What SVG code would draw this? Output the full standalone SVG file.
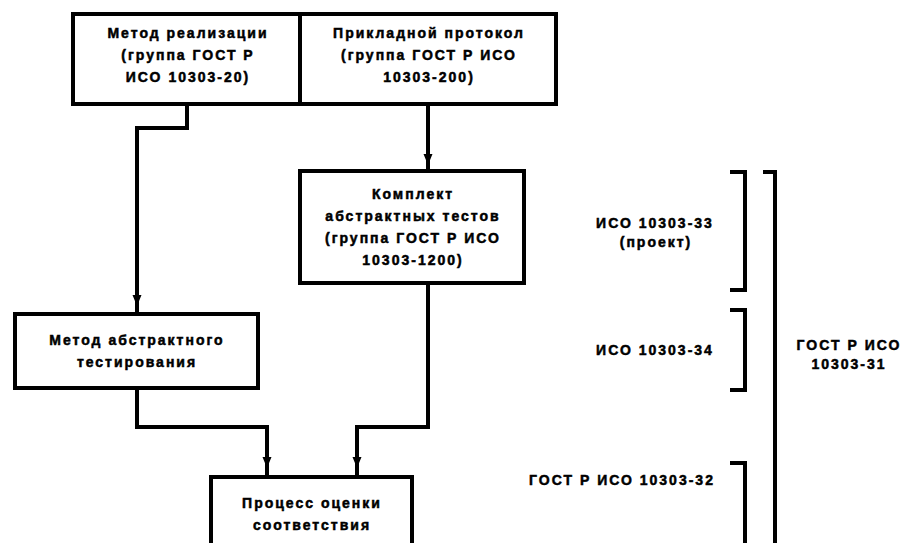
<svg xmlns="http://www.w3.org/2000/svg" width="909" height="543" viewBox="0 0 909 543">
<style>
.box{fill:#fff;stroke:#000;stroke-width:4}
.ln{fill:none;stroke:#000;stroke-width:4}
.t{font-family:"Liberation Sans",Arial,sans-serif;font-size:14px;font-weight:bold;letter-spacing:2px;text-anchor:middle;fill:#000;stroke:#000;stroke-width:0.5}
</style>
<defs>
<path id="ah" d="M-4.5,-6 L4.5,-6 L0,5 Z" fill="#000"/>
</defs>
<rect width="909" height="543" fill="#fff"/>
<g id="connectors">
<polyline class="ln" points="187,104 187,128 137,128 137,314"/>
<use href="#ah" x="137" y="301"/>
<line class="ln" x1="428" y1="104" x2="428" y2="171"/>
<use href="#ah" x="428" y="160"/>
<polyline class="ln" points="137,388 137,427 267,427 267,477"/>
<use href="#ah" x="267" y="463"/>
<polyline class="ln" points="428,283 428,427 357,427 357,477"/>
<use href="#ah" x="357" y="463"/>
</g>
<g id="node-impl">
<rect class="box" x="73" y="14" width="227" height="90"/>
<text class="t" x="188" y="38">Метод реализации</text>
<text class="t" x="188" y="60">(группа ГОСТ Р</text>
<text class="t" x="188" y="82">ИСО 10303-20)</text>
</g>
<g id="node-ap">
<rect class="box" x="300" y="14" width="256" height="90"/>
<text class="t" x="429" y="38">Прикладной протокол</text>
<text class="t" x="429" y="60">(группа ГОСТ Р ИСО</text>
<text class="t" x="429" y="82">10303-200)</text>
</g>
<g id="node-ats">
<rect class="box" x="300" y="171" width="224" height="112"/>
<text class="t" x="413" y="199">Комплект</text>
<text class="t" x="413" y="221">абстрактных тестов</text>
<text class="t" x="413" y="243">(группа ГОСТ Р ИСО</text>
<text class="t" x="413" y="265">10303-1200)</text>
</g>
<g id="node-atm">
<rect class="box" x="15" y="314" width="243" height="74"/>
<text class="t" x="137" y="345">Метод абстрактного</text>
<text class="t" x="137" y="367">тестирования</text>
</g>
<g id="node-cap">
<rect class="box" x="211" y="477" width="201" height="80"/>
<text class="t" x="312" y="508">Процесс оценки</text>
<text class="t" x="312" y="530">соответствия</text>
</g>
<g id="brackets">
<polyline class="ln" points="730,172 745,172 745,290 730,290"/>
<polyline class="ln" points="730,310 745,310 745,390 730,390"/>
<polyline class="ln" points="730,463 745,463 745,560"/>
<polyline class="ln" points="763,172 775,172 775,560"/>
</g>
<g id="labels">
<text class="t" x="655" y="228">ИСО 10303-33</text>
<text class="t" x="656" y="247">(проект)</text>
<text class="t" x="655" y="355">ИСО 10303-34</text>
<text class="t" x="622" y="485">ГОСТ Р ИСО 10303-32</text>
<text class="t" x="849" y="350">ГОСТ Р ИСО</text>
<text class="t" x="849" y="369">10303-31</text>
</g>
</svg>
